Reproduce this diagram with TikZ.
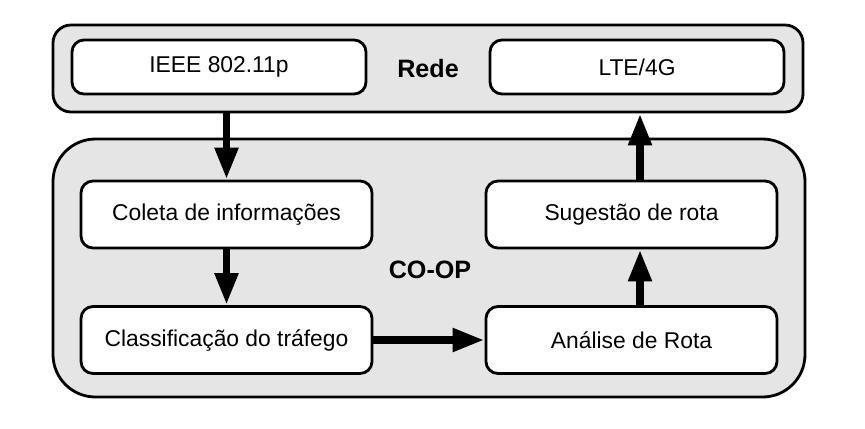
\documentclass[tikz,border=0pt]{standalone}
\usepackage{fontspec}
\setmainfont{Liberation Sans}
\usetikzlibrary{arrows.meta, positioning}

\begin{document}
\begin{tikzpicture}[
		font=\fontsize{13}{15}\selectfont,
		grupo/.style={draw, line width=1.6pt, fill=gray!20, inner sep=0pt},
		titulo/.style={font=\fontsize{14.3}{16}\selectfont\bfseries},
		caixa/.style={draw, line width=1.6pt, fill=white, rounded corners=0.24cm,
			minimum width=5.82cm, minimum height=1.34cm, inner sep=0pt},
		seta/.style={line width=4.5pt, -{Triangle[length=0.64cm, width=0.44cm]}}
	]
		\useasboundingbox (0,0) rectangle (17.3,8.56);
		
		% --- Rede (caixa de cima)
		\node[grupo, rounded corners=0.36cm, minimum width=15cm, minimum height=1.74cm] (rede) at (8.56,7.19) {};
		\node[caixa, minimum width=5.88cm, minimum height=1.08cm] (ieee) at (4.38,7.22) {IEEE 802.11p};
		\node[caixa, minimum width=5.88cm, minimum height=1.08cm] (lte) at (12.74,7.22) {LTE/4G};
		\node[titulo] (redetxt) at (8.56,7.18) {Rede};
		
		% --- CO-OP (caixa de baixo)
		\node[grupo, rounded corners=0.85cm, minimum width=15.04cm, minimum height=5.16cm] (coop) at (8.58,3.2) {};
		\node[titulo] (cooptxt) at (8.6,3.16) {CO-OP};
		
		% Etapas
		\node[caixa] (coleta) at (4.53,4.27) {Coleta de informações};
		\node[caixa] (classif) at (4.53,1.76) {Classificação do tráfego};
		\node[caixa] (analise) at (12.63,1.76) {Análise de Rota};
		\node[caixa] (sugestao) at (12.63,4.27) {Sugestão de rota};
		
		% Setas
		\draw[seta] (coleta.north |- rede.south) -- (coleta.north);
		\draw[seta] (coleta) -- (classif);
		\draw[seta] (classif) -- (analise);
		\draw[seta] ([xshift=0.17cm]analise.north) -- ([xshift=0.17cm]sugestao.south);
		\draw[seta] ([xshift=0.17cm]sugestao.north) -- ([xshift=0.17cm]sugestao.north |- rede.south);
		
	\end{tikzpicture}
\end{document}
